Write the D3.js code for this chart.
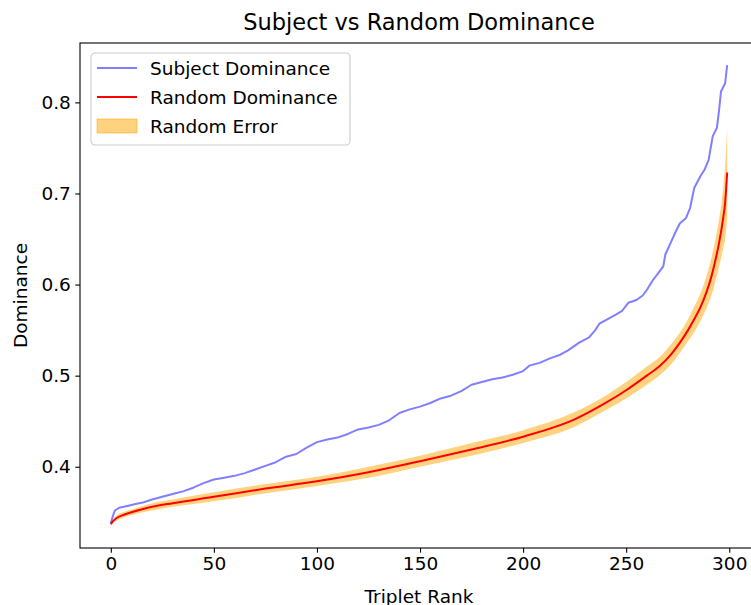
<!DOCTYPE html>
<html>
<head>
<meta charset="utf-8">
<title>Subject vs Random Dominance</title>
<style>
body { margin: 0; padding: 0; background: #fff; }
svg { display: block; font-family: "DejaVu Sans", sans-serif; }
</style>
<script src="https://d3js.org/d3.v7.min.js"></script>
</head>
<body>
<svg id="chart" width="751" height="605"></svg>
<script>
// subject dominance (rank, value)
const subjectRank = [0, 1, 2, 4, 8, 12, 16, 20, 25, 30, 35, 40, 45, 50, 55, 60, 65, 70, 75, 80,
  85, 90, 95, 100, 105, 110, 115, 120, 125, 130, 135, 140, 145, 150, 155, 160, 165, 170, 175, 180,
  185, 190, 195, 200, 203, 208, 213, 218, 222, 227, 232, 235, 237, 241, 245, 248, 251, 255, 258, 260,
  263, 265, 268, 269, 272, 274, 276, 279, 281, 283, 286, 288, 290, 292, 294, 295, 296, 298, 299];
const subjectValue = [0.338, 0.346, 0.352, 0.355, 0.357, 0.359, 0.361, 0.364, 0.367, 0.370, 0.373, 0.377, 0.382, 0.386, 0.388, 0.390, 0.393, 0.397, 0.401, 0.405,
  0.411, 0.414, 0.421, 0.427, 0.430, 0.432, 0.436, 0.441, 0.443, 0.446, 0.451, 0.459, 0.463, 0.466, 0.470, 0.475, 0.478, 0.483, 0.490, 0.493,
  0.496, 0.498, 0.501, 0.505, 0.511, 0.514, 0.519, 0.523, 0.528, 0.536, 0.542, 0.550, 0.557, 0.562, 0.567, 0.571, 0.580, 0.583, 0.588, 0.594,
  0.605, 0.611, 0.620, 0.633, 0.648, 0.658, 0.667, 0.673, 0.684, 0.706, 0.719, 0.726, 0.737, 0.763, 0.772, 0.790, 0.812, 0.821, 0.841];

// random dominance mean and error half-width
const randomRank = [0, 1, 3, 6, 10, 20, 30, 50, 75, 100, 125, 150, 175, 200, 225, 240, 250, 260, 266, 272,
  276, 280, 283, 286, 289, 291, 293, 295, 297, 298, 299];
const randomValue = [0.337, 0.340, 0.344, 0.347, 0.350, 0.356, 0.360, 0.367, 0.376, 0.384, 0.394, 0.406, 0.419, 0.433, 0.452, 0.470, 0.484, 0.500, 0.510, 0.524,
  0.536, 0.550, 0.562, 0.575, 0.592, 0.606, 0.624, 0.645, 0.672, 0.690, 0.723];
const randomErr = [0.002, 0.002, 0.003, 0.003, 0.003, 0.004, 0.004, 0.005, 0.005, 0.005, 0.006, 0.006, 0.007, 0.007, 0.008, 0.008, 0.009, 0.010, 0.010, 0.011,
  0.011, 0.012, 0.014, 0.015, 0.018, 0.020, 0.023, 0.026, 0.033, 0.040, 0.050];

const xTicks = [0, 50, 100, 150, 200, 250, 300];
const yTicks = [0.4, 0.5, 0.6, 0.7, 0.8];

const svg = d3.select("#chart");
const mLeft = 80, mTop = 43, mRight = 758, mBottom = 548;

const x = d3.scaleLinear().domain([-14.95, 313.95]).range([mLeft, mRight]);
const y = d3.scaleLinear().domain([0.3108, 0.8652]).range([mBottom, mTop]);

const subject = subjectRank.map((r, i) => ({ r: r, v: subjectValue[i] }));
const random = randomRank.map((r, i) => ({ r: r, v: randomValue[i], e: randomErr[i] }));

const plot = svg.append("g");

// error band
plot.append("path")
  .datum(random)
  .attr("fill", "orange")
  .attr("fill-opacity", 0.5)
  .attr("d", d3.area()
    .x(d => x(d.r))
    .y0(d => y(d.v - d.e))
    .y1(d => y(d.v + d.e))
    .curve(d3.curveMonotoneX));

plot.append("path")
  .datum(subject)
  .attr("fill", "none")
  .attr("stroke", "blue")
  .attr("stroke-opacity", 0.5)
  .attr("stroke-width", 2)
  .attr("stroke-linejoin", "round")
  .attr("d", d3.line().x(d => x(d.r)).y(d => y(d.v)));

plot.append("path")
  .datum(random)
  .attr("fill", "none")
  .attr("stroke", "red")
  .attr("stroke-width", 2)
  .attr("d", d3.line().x(d => x(d.r)).y(d => y(d.v)).curve(d3.curveMonotoneX));

// axes
const xAxis = svg.append("g")
  .attr("transform", `translate(0,${mBottom})`)
  .call(d3.axisBottom(x).tickValues(xTicks).tickSize(4.7).tickPadding(4.5).tickFormat(d3.format("d")));
const yAxis = svg.append("g")
  .attr("transform", `translate(${mLeft},0)`)
  .call(d3.axisLeft(y).tickValues(yTicks).tickSize(4.7).tickPadding(4.5).tickFormat(d3.format(".1f")));

[xAxis, yAxis].forEach(a => {
  a.select(".domain").remove();
  a.selectAll(".tick line").attr("stroke", "#000").attr("stroke-width", 1.1);
  a.selectAll(".tick text").attr("font-size", 18.5).attr("fill", "#000")
    .attr("font-family", "DejaVu Sans, sans-serif");
});

// spines
svg.append("rect")
  .attr("x", mLeft).attr("y", mTop)
  .attr("width", mRight - mLeft).attr("height", mBottom - mTop)
  .attr("fill", "none").attr("stroke", "#000").attr("stroke-width", 1.1);

// titles
svg.append("text")
  .attr("x", (mLeft + mRight) / 2).attr("y", 30)
  .attr("text-anchor", "middle").attr("font-size", 22.5)
  .text("Subject vs Random Dominance");
svg.append("text")
  .attr("x", (mLeft + mRight) / 2).attr("y", 603)
  .attr("text-anchor", "middle").attr("font-size", 18.5)
  .text("Triplet Rank");
svg.append("text")
  .attr("transform", `translate(27,${(mTop + mBottom) / 2}) rotate(-90)`)
  .attr("text-anchor", "middle").attr("font-size", 18.5)
  .text("Dominance");

// legend
const legendItems = [
  { label: "Subject Dominance", type: "line", color: "blue", opacity: 0.5 },
  { label: "Random Dominance", type: "line", color: "red", opacity: 1 },
  { label: "Random Error", type: "patch", color: "orange", opacity: 0.5 }
];
const lg = svg.append("g").attr("transform", "translate(91,53)");
lg.append("rect")
  .attr("width", 259).attr("height", 92).attr("rx", 4)
  .attr("fill", "#fff").attr("fill-opacity", 0.8)
  .attr("stroke", "#cccccc").attr("stroke-width", 1.1);
legendItems.forEach((it, i) => {
  const cy = 15 + i * 29;
  if (it.type === "line") {
    lg.append("line")
      .attr("x1", 6).attr("x2", 46).attr("y1", cy).attr("y2", cy)
      .attr("stroke", it.color).attr("stroke-opacity", it.opacity).attr("stroke-width", 2);
  } else {
    lg.append("rect")
      .attr("x", 6).attr("y", cy - 7).attr("width", 40).attr("height", 14)
      .attr("fill", it.color).attr("fill-opacity", it.opacity)
      .attr("stroke", it.color).attr("stroke-opacity", it.opacity);
  }
  lg.append("text")
    .attr("x", 59).attr("y", cy + 6.5)
    .attr("font-size", 18.5)
    .text(it.label);
});
</script>
</body>
</html>
